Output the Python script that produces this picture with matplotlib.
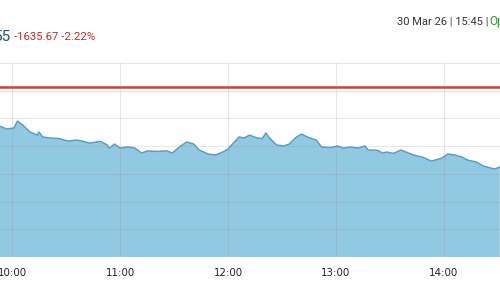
import matplotlib
matplotlib.use("Agg")
import matplotlib.pyplot as plt

# intraday index values
times = ["09:53", "09:57", "10:01", "10:03", "10:06", "10:10", "10:14", "10:15",
         "10:17", "10:21", "10:26", "10:31", "10:36", "10:39", "10:43", "10:49",
         "10:53", "10:54", "10:57", "11:00", "11:04", "11:08", "11:12", "11:15",
         "11:21", "11:26", "11:29", "11:33", "11:37", "11:41", "11:44", "11:49",
         "11:53", "11:57", "12:00", "12:03", "12:06", "12:09", "12:12", "12:16",
         "12:19", "12:21", "12:23", "12:27", "12:31", "12:34", "12:38", "12:41",
         "12:44", "12:49", "12:52", "12:57", "13:01", "13:04", "13:08", "13:12",
         "13:16", "13:18", "13:23", "13:26", "13:28", "13:32", "13:36", "13:39",
         "13:43", "13:48", "13:53", "13:57", "13:59", "14:02", "14:06", "14:10",
         "14:13", "14:18", "14:22", "14:26", "14:28", "14:31"]
values = [73395, 73374, 73381, 73431, 73402, 73352, 73330, 73352,
          73316, 73309, 73305, 73287, 73294, 73287, 73272, 73285,
          73258, 73236, 73265, 73236, 73244, 73238, 73200, 73215,
          73212, 73216, 73200, 73244, 73280, 73265, 73222, 73193,
          73186, 73207, 73229, 73272, 73316, 73309, 73330, 73309,
          73305, 73345, 73309, 73258, 73251, 73265, 73316, 73337,
          73316, 73294, 73244, 73240, 73251, 73236, 73244, 73236,
          73251, 73222, 73220, 73200, 73207, 73198, 73222, 73207,
          73186, 73171, 73142, 73157, 73164, 73193, 73186, 73171,
          73150, 73135, 73106, 73092, 73085, 73099]
prev_close = 73680
tick_labels = ["10:00", "11:00", "12:00", "13:00", "14:00"]

def to_min(t):
    h, m = t.split(":")
    return int(h) * 60 + int(m)

x = [to_min(t) for t in times]
xticks = [to_min(t) for t in tick_labels]

fig = plt.figure(figsize=(5, 3), dpi=100)
ax = fig.add_axes([0, 0.1433, 1, 0.6467])

y_bottom = 72450
ax.fill_between(x, values, y_bottom, color="#92c9e2", lw=0)
ax.plot(x, values, color="#5b9fc2", lw=1.1)
ax.axhline(prev_close, color="#d83a3a", lw=1.8)

ax.set_xlim(593.3, 871.1)
ax.set_ylim(y_bottom, 73850)
ax.set_yticks(range(72450, 73851, 200))
ax.set_xticks(xticks)
ax.set_xticklabels(tick_labels)
ax.set_axisbelow(False)
ax.grid(True, color="#a08080", alpha=0.2, lw=0.8)
ax.tick_params(axis="x", length=0, pad=8, labelsize=7.4, labelcolor="#222222")
ax.tick_params(axis="y", length=0, labelleft=False)
for s in ax.spines.values():
    s.set_visible(False)

fig.text(0.022, 0.877, "55", ha="right", va="center", fontsize=11,
         color="#1f5470", family="Roboto")
fig.text(0.028, 0.875, "-1635.67 -2.22%", ha="left", va="center", fontsize=8.2,
         color="#c62828", family="Roboto")
fig.text(0.794, 0.927, "30 Mar 26 | 15:45 |", ha="left", va="center", fontsize=8,
         color="#333333", family="Roboto")
fig.text(0.978, 0.927, "Op", ha="left", va="center", fontsize=8.5,
         color="#2e9a2e", family="Roboto")

fig.savefig("out.png", dpi=100)
